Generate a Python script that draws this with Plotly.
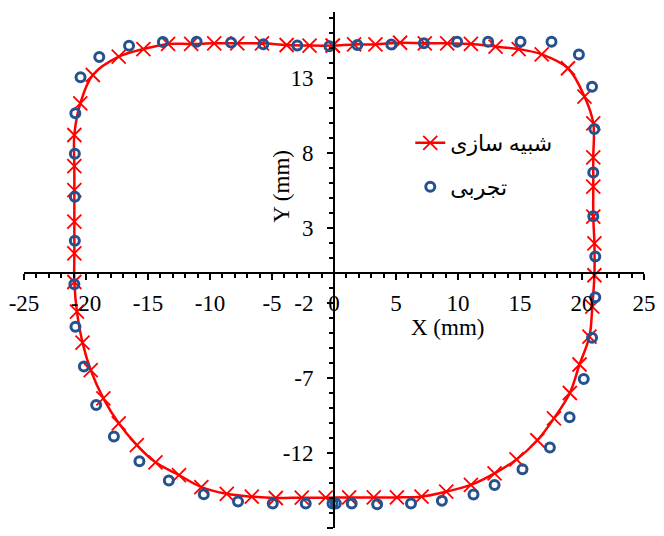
import plotly.graph_objects as go

# Simulated profile (clockwise, starting at the top near x = 0), mm
sim_x = [-0.1, 1.62, 3.34, 5.33, 7.32, 9.13, 11.04, 13.03, 14.89, 16.75, 18.87,
         20.2, 20.91, 20.91, 20.91, 20.91, 21.0, 21.0, 20.83, 20.6, 19.8, 19.02,
         17.74, 16.4, 14.72, 12.95, 11.04, 9.05, 7.06, 5.07, 3.21, 1.22, -0.67,
         -2.6, -4.7, -6.63, -8.65, -10.7, -12.5, -14.4, -15.9, -17.36, -18.6,
         -19.62, -20.28, -20.73, -20.94, -20.94, -20.94, -20.94, -20.94, -20.94,
         -20.46, -19.45, -17.36, -15.37, -13.38, -11.52, -9.66, -7.8, -5.81,
         -3.82, -1.97]
sim_y = [15.16, 15.24, 15.24, 15.35, 15.31, 15.31, 15.27, 15.09, 14.93, 14.58, 13.65,
         11.76, 9.98, 7.71, 5.76, 3.76, 1.98, -0.15, -2.24, -4.24, -6.1, -8.0,
         -9.69, -11.15, -12.43, -13.36, -14.13, -14.58, -14.91, -14.96, -14.96, -14.96, -14.98,
         -14.98, -15.0, -14.91, -14.72, -14.27, -13.47, -12.62, -11.47, -10.02, -8.36,
         -6.47, -4.64, -2.58, -0.6, 1.31, 3.42, 5.53, 7.13, 9.2,
         11.31, 13.2, 14.42, 14.93, 15.27, 15.27, 15.31, 15.31, 15.31,
         15.2, 15.16]

# Measured profile, mm
exp_x = [-0.37, 1.88, 4.62, 7.25, 9.93, 12.43, 15.04, 17.54, 19.75, 20.81, 21.0,
         20.91, 20.91, 21.07, 21.07, 20.81, 20.14, 19.0, 17.41, 15.2, 12.95, 11.25,
         8.7, 6.21, 3.48, 1.43, 0.15, -0.12, -2.28, -4.94, -7.74, -10.5, -13.32,
         -15.69, -17.75, -19.18, -20.17, -20.85, -20.94, -20.9, -20.9, -20.9,
         -20.86, -20.44, -18.93, -16.53, -13.8, -11.08, -8.3, -5.7, -2.96]
exp_y = [15.12, 15.2, 15.24, 15.31, 15.42, 15.42, 15.42, 15.42, 14.56, 12.42, 9.6,
         6.7, 3.79, 1.1, -1.62, -4.31, -7.07, -9.62, -11.64, -13.09, -14.13, -14.76,
         -15.18, -15.36, -15.42, -15.36, -15.36, -15.36, -15.36, -15.36, -15.24, -14.75, -13.84,
         -12.55, -10.9, -8.8, -6.24, -3.58, -0.75, 2.15, 5.08, 7.95,
         10.65, 13.05, 14.4, 15.15, 15.4, 15.42, 15.36, 15.25, 15.17]

x_ticks = [-25, -20, -15, -10, -5, 0, 5, 10, 15, 20, 25]
x_tick_labels = ["-25", "-20", "-15", "-10", "-5", "0", "5", "10", "15", "20", "25"]
y_ticks = [-17, -12, -7, -2, 3, 8, 13]
y_tick_labels = ["-17", "-12", "-7", "-2", "3", "8", "13"]

x_range = [-25, 25]
y_range = [-17, 17.4]

serif = "Liberation Serif, Times New Roman, serif"
persian = "Liberation Serif, DejaVu Sans, serif"
blue = "#25528E"

fig = go.Figure()

fig.add_trace(go.Scatter(
    x=sim_x + sim_x[:1], y=sim_y + sim_y[:1],
    mode="lines+markers", name="شبیه سازی",
    line=dict(color="#FF0000", width=2.5, shape="spline", smoothing=1),
    marker=dict(symbol="x-thin", size=14, line=dict(color="#FF0000", width=1.8)),
    legend="legend",
))
fig.add_trace(go.Scatter(
    x=exp_x, y=exp_y, mode="markers", name="تجربی",
    marker=dict(symbol="circle-open", size=9, color=blue, line=dict(color=blue, width=3)),
    legend="legend2",
))

tick_font = dict(family=serif, size=23, color="black")
x_pos = (0 - y_range[0]) / (y_range[1] - y_range[0])
y_pos = (0 - x_range[0]) / (x_range[1] - x_range[0])

fig.update_xaxes(
    range=x_range, anchor="free", position=x_pos,
    showline=True, linecolor="black", linewidth=2,
    showgrid=False, zeroline=False,
    tickmode="array", tickvals=x_ticks, ticktext=x_tick_labels,
    ticks="outside", ticklen=6, tickwidth=2, tickcolor="black",
    ticklabelstandoff=3,
    minor=dict(tickmode="linear", tick0=-25, dtick=1, ticks="outside",
               ticklen=4, tickwidth=1.5, tickcolor="black", showgrid=False),
    tickfont=tick_font,
)
fig.update_yaxes(
    range=y_range, anchor="free", position=y_pos,
    showline=True, linecolor="black", linewidth=2,
    showgrid=False, zeroline=False,
    tickmode="array", tickvals=y_ticks, ticktext=y_tick_labels,
    ticks="outside", ticklen=6, tickwidth=2, tickcolor="black",
    ticklabelstandoff=9,
    minor=dict(tickmode="linear", tick0=-17, dtick=1, ticks="outside",
               ticklen=4, tickwidth=1.5, tickcolor="black", showgrid=False),
    tickfont=tick_font,
)

fig.add_annotation(x=9.16, y=-3.65, xref="x", yref="y", text="X (mm)",
                   showarrow=False, font=dict(family=serif, size=23, color="black"))
fig.add_annotation(x=-4.3, y=5.8, xref="x", yref="y", text="Y (mm)", textangle=-90,
                   showarrow=False, font=dict(family=serif, size=23, color="black"))

legend_font = dict(family=persian, size=22, color="black")
fig.update_layout(
    width=664, height=536,
    margin=dict(l=24, r=12, t=12, b=8),
    plot_bgcolor="white", paper_bgcolor="white",
    showlegend=True,
    legend=dict(x=0.623, y=0.746, xanchor="left", yanchor="middle",
                bgcolor="rgba(0,0,0,0)", font=legend_font),
    legend2=dict(x=0.623, y=0.661, xanchor="left", yanchor="middle",
                 bgcolor="rgba(0,0,0,0)", font=legend_font),
)

fig.write_html("out.html")
